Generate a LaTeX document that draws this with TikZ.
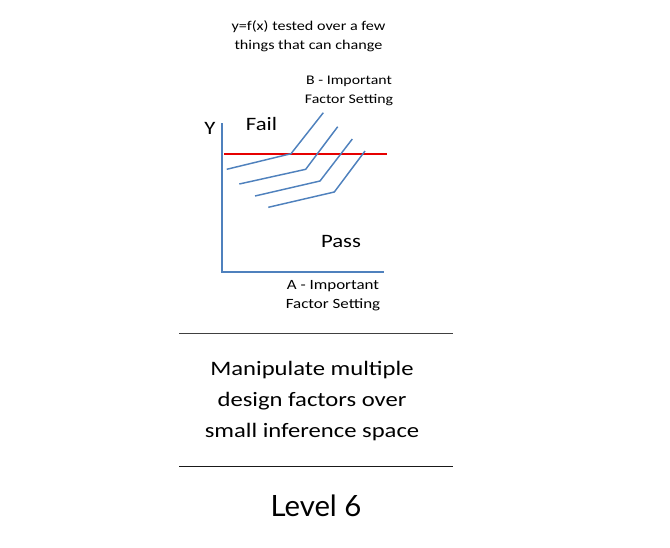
\documentclass[tikz,border=0pt]{standalone}
\usepackage{fontspec}
\setmainfont{Carlito}
\newfontfamily\levelfont{Lato}
\usepackage{tikz}
\usetikzlibrary{positioning}

\definecolor{axisblue}{RGB}{79,129,189}
\definecolor{limitred}{RGB}{230,0,0}

\begin{document}
\begin{tikzpicture}[
    x=0.75pt, y=-0.75pt,
    every node/.style={inner sep=0pt, align=center},
    wide/.style={xscale=1.2, transform shape},
    small/.style={wide, font=\fontsize{10.1}{14.25}\selectfont},
    factor/.style={wide, font=\fontsize{10.6}{14.25}\selectfont},
    big/.style={wide, font=\fontsize{14.2}{16}\selectfont},
    body/.style={wide, font=\fontsize{15.4}{23.6}\selectfont},
    curve/.style={draw=axisblue, line width=1.1pt},
    rule/.style={draw=black!75, line width=0.7pt}
]
    \useasboundingbox (0,0) rectangle (670,547);

    % heading
    \node[small] (head) at (308.5,36) {y=f(x) tested over a few\\things that can change};
    \node[factor, font=\fontsize{9.9}{14.25}\selectfont] (bset) at (349,91) {B - Important\\Factor Setting};

    % axes
    \coordinate (top) at (222,123);
    \coordinate (orig) at (222,272);
    \coordinate (xend) at (384,272);
    \draw[curve] (top) -- (orig) -- (xend);
    \node[big] (ylab) at (210,128) {Y};
    \node[big] (fail) at (261.5,124) {Fail};
    \node[big] (pass) at (341,241) {Pass};
    \node[factor] (aset) at (333,296) {A - Important\\Factor Setting};

    % limit
    \coordinate (lim1) at (224,154.3);
    \coordinate (lim2) at (387,154.3);
    \draw[draw=limitred, line width=1.4pt] (lim1) -- (lim2);

    % responses
    \foreach \ax/\ay/\bx/\by/\cx/\cy in {
        226.7/169.3/291/153.7/323.3/112.7,
        239.3/184/305.7/169.3/337.7/126.7,
        255/196/320/181/352.3/139,
        268.3/207.3/334.3/192/365/151}
        \draw[curve] (\ax,\ay) -- (\bx,\by) -- (\cx,\cy);

    % summary
    \coordinate (r1a) at (179,333.3);
    \coordinate (r1b) at (453,333.3);
    \draw[rule] (r1a) -- (r1b);
    \node[body] (desc) at (312,401) {Manipulate multiple\\design factors over\\small inference space};
    \coordinate (r2a) at (179,466.7);
    \coordinate (r2b) at (453,466.7);
    \draw[rule, draw=black!90, line width=1.1pt] (r2a) -- (r2b);
    \node[font=\levelfont\fontsize{22}{26}\selectfont] (level) at (316,506) {Level 6};
\end{tikzpicture}
\end{document}
